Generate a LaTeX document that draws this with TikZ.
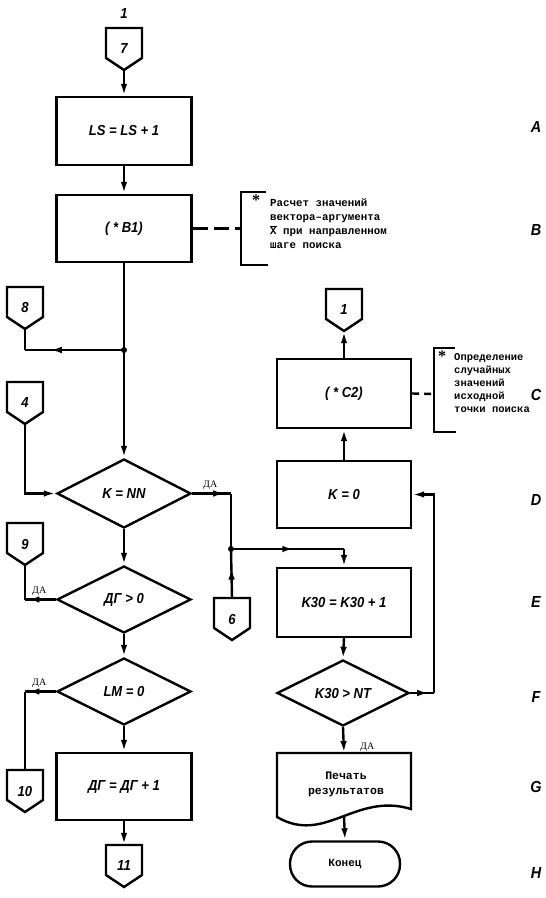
\documentclass[tikz,border=0pt]{standalone}
\usepackage{fontspec}
\setmainfont{Liberation Serif}
\newfontfamily\gostfont[FakeStretch=0.9]{Liberation Sans}
\newfontfamily\typefont{Liberation Mono}
\usetikzlibrary{arrows.meta,shapes.geometric,decorations.markings}

\tikzset{
  ln/.style={line width=2.4pt},
  arr/.style={ln,-{Latex[length=12pt,width=6.5pt]}},
  midarr/.style={ln,postaction={decorate},decoration={markings,
     mark=at position #1 with {\arrow{Latex[length=12pt,width=6.5pt]}}}},
  gost/.style={font=\gostfont\bfseries\itshape\fontsize{14.5}{16}\selectfont},
  procbox/.style={draw,ln,rectangle,minimum width=135pt,minimum height=68pt,inner sep=0pt,gost},
  decbox/.style={draw,ln,diamond,aspect=2,minimum width=134pt,minimum height=68pt,inner sep=0pt,gost},
  conn/.style={minimum width=36pt,minimum height=42pt,inner sep=0pt,gost},
  rowlab/.style={font=\gostfont\bfseries\itshape\fontsize{16}{18}\selectfont},
  yes/.style={font=\fontsize{10}{11}\selectfont,inner sep=0pt},
  note/.style={font=\typefont\bfseries\fontsize{10.8}{14}\selectfont,align=left,inner sep=0pt,anchor=north west},
  jdot/.style={circle,fill,inner sep=0pt,minimum size=6pt},
}

\newcommand{\offpageconn}[4]{%
  \node[conn] (#1) at (#2,#3+21) {#4};
  \draw[ln,line join=miter] (#2-18,#3) -- (#2+18,#3) -- (#2+18,#3+30) -- (#2,#3+42) -- (#2-18,#3+30) -- cycle;
}

\begin{document}
\begin{tikzpicture}[x=1pt,y=-1pt]
\useasboundingbox (0,0) rectangle (546,898);

% ---------- left column ----------
\node[gost] (lab1) at (124,14) {1};
\offpageconn{p7}{124}{28}{7}
\node[procbox] (ls) at (124,131) {LS = LS + 1};
\node[procbox,minimum height=67pt] (b1) at (124,228.5) {( * B1)};
\node[decbox,minimum height=69pt] (knn) at (124,493.5) {K = NN};
\node[decbox,minimum height=67pt] (dg) at (124,599.5) {ДГ > 0};
\node[decbox,minimum height=67pt] (lm) at (124,691.5) {LM = 0};
\node[procbox,minimum height=67pt] (dgbox) at (124,786.5) {ДГ = ДГ + 1};
\offpageconn{p11}{124}{845}{11}

\offpageconn{p8}{25}{287}{8}
\offpageconn{p4}{25}{382}{4}
\offpageconn{p9}{25}{523}{9}
\offpageconn{p10}{25}{770}{10}
\offpageconn{p6}{232}{598}{6}

\node[jdot] (j1) at (124,350) {};
\node[jdot] (j2) at (231,549) {};
\coordinate (c8) at (25,350);
\coordinate (c4) at (25,493.5);
\coordinate (cyes1) at (231,493.5);
\coordinate (ck30) at (344,549);
\coordinate (c9) at (25,599.5);
\coordinate (c10) at (25,691.5);

\draw[arr] (p7.south) -- (ls.north);
\draw[arr] (ls.south) -- (b1.north);
\draw[ln] (b1.south) -- (j1.center);
\draw[arr] (j1.center) -- (knn.north);
\draw[midarr=0.75] (j1.center) -- (c8);
\draw[ln] (c8) -- (p8.south);
\draw[arr] (p4.south) -- (c4) -- (knn.west);
\draw[midarr=0.85] (knn.east) -- (cyes1);
\draw[ln] (cyes1) -- (j2.center);
\draw[midarr=0.56] (j2.center) -- (ck30);
\draw[midarr=0.62] (p6.north) -- (j2.center);
\draw[arr] (knn.south) -- (dg.north);
\draw[midarr=0.92] (dg.west) -- (c9);
\draw[ln] (c9) -- (p9.south);
\draw[arr] (dg.south) -- (lm.north);
\draw[midarr=0.92] (lm.west) -- (c10);
\draw[ln] (c10) -- (p10.north);
\draw[arr] (lm.south) -- (dgbox.north);
\draw[arr] (dgbox.south) -- (p11.north);

\node[yes,anchor=south west] (yes1) at (203,490) {ДА};
\node[yes,anchor=south west] (yes2) at (32,596) {ДА};
\node[yes,anchor=south west] (yes3) at (32,688) {ДА};

% note B
\coordinate (brB) at (241,228.5);
\draw[ln,dash pattern=on 15pt off 6pt] (b1.east) -- (brB);
\draw[ln] (266,192) -- (241,192) -- (241,265) -- (268,265);
\node[font=\bfseries\fontsize{16}{16}\selectfont,inner sep=0pt] (astB) at (256,200) {*};
\node[note] (noteB) at (270,199) {Расчет значений\\вектора–аргумента\\ $\overline{\hbox{X}}$ при направленном\\шаге поиска};

% ---------- right column ----------
\offpageconn{p1}{344}{289}{1}
\node[procbox,minimum width=134pt,minimum height=69pt] (c2) at (344,393.5) {( * C2)};
\node[procbox,minimum width=134pt,minimum height=67pt] (k0) at (344,494.5) {K = 0};
\node[procbox,minimum width=134pt,minimum height=69pt] (k30) at (344,602.5) {K30 = K30 + 1};
\node[decbox,minimum width=132pt,minimum height=66pt] (knt) at (343,693) {K30 > NT};
\node[minimum width=134pt,minimum height=63pt,inner sep=0pt,align=center,
      font=\typefont\bfseries\fontsize{11.5}{15}\selectfont] (doc) at (346,784.5) {Печать\\результатов};
\draw[ln,line join=miter] (277,753) -- (411,753) -- (411,809)
   .. controls (355,792) and (325,845) .. (277,817) -- cycle;
\node[draw,ln,rectangle,rounded corners=22pt,minimum width=110pt,minimum height=45pt,
      font=\typefont\bfseries\fontsize{11}{12}\selectfont] (kon) at (345,864) {Конец};

\coordinate (cr1) at (434,693);
\coordinate (cr2) at (434,494.5);

\draw[arr] (c2.north) -- (p1.south);
\draw[arr] (k0.north) -- (c2.south);
\draw[arr] (ck30) -- (k30.north);
\draw[arr] (k30.south) -- (knt.north);
\draw[midarr=0.8] (knt.east) -- (cr1);
\draw[arr] (cr1) -- (cr2) -- (k0.east);
\draw[arr] (knt.south) -- (344,753);
\draw[arr] (344,816) -- (kon.north);
\node[yes,anchor=south west] (yes4) at (360,752) {ДА};

% note C
\coordinate (brC) at (434,394);
\draw[ln,dash pattern=on 7pt off 5pt] (c2.east) -- (brC);
\draw[ln] (455,348) -- (434,348) -- (434,432) -- (456,432);
\node[font=\bfseries\fontsize{16}{16}\selectfont,inner sep=0pt] (astC) at (442,356) {*};
\node[note,font=\typefont\bfseries\fontsize{10.5}{13}\selectfont] (noteC) at (454,353) {Определение\\случайных\\значений\\исходной\\точки поиска};

% ---------- row labels ----------
\node[rowlab] (rA) at (536,127) {A};
\node[rowlab] (rB) at (536,230) {B};
\node[rowlab] (rC) at (536,395) {C};
\node[rowlab] (rD) at (536,500) {D};
\node[rowlab] (rE) at (536,602) {E};
\node[rowlab] (rF) at (536,697) {F};
\node[rowlab] (rG) at (536,787) {G};
\node[rowlab] (rH) at (536,873) {H};
\end{tikzpicture}
\end{document}
